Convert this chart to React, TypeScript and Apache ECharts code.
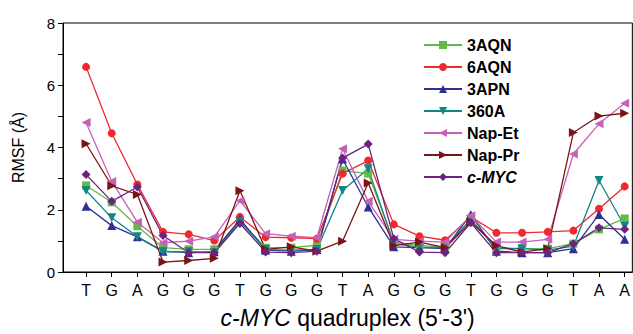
import React, { useEffect, useRef } from "react";
import * as echarts from "echarts";

const categories = ["T","G","A","G","G","G","T","G","G","G","T","A","G","G","G","T","G","G","G","T","A","A"];
const yTicks = [0, 2, 4, 6, 8];

const s3AQN = [2.78,2.24,1.47,0.78,0.73,0.73,1.65,0.78,0.78,0.86,3.26,3.16,0.96,0.85,0.81,1.69,0.78,0.75,0.75,0.91,1.37,1.72];
const s6AQN = [6.59,4.46,2.81,1.29,1.21,1.01,1.77,1.12,1.10,1.07,3.16,3.58,1.53,1.15,1.02,1.77,1.26,1.26,1.29,1.33,2.03,2.75];
const s3APN = [2.11,1.49,1.13,0.67,0.62,0.65,1.70,0.70,0.67,0.72,3.63,2.09,0.81,0.78,0.75,1.85,0.67,0.62,0.62,0.75,1.85,1.05];
const s360A = [2.62,1.74,1.13,0.65,0.65,0.62,1.62,0.72,0.70,0.72,2.62,3.32,0.91,0.80,0.78,1.69,0.75,0.75,0.70,0.83,2.94,1.47];
const sNapEt = [4.80,2.91,1.60,0.94,0.99,1.13,2.29,1.23,1.15,1.10,3.96,2.27,1.05,0.99,0.96,1.81,0.96,0.96,1.05,3.79,4.76,5.42];
const sNapPr = [4.12,2.77,2.49,0.32,0.37,0.44,2.61,0.73,0.81,0.67,0.99,2.86,0.85,0.96,0.78,1.60,0.85,0.64,0.75,4.48,5.01,5.10];
const sCMYC = [3.13,2.27,2.73,1.17,0.62,0.62,1.56,0.64,0.62,0.67,3.66,4.11,1.07,0.64,0.62,1.58,0.62,0.62,0.62,0.91,1.42,1.37];

const seriesDefs = [
  { name: "3AQN", data: s3AQN, color: "#62BB46", symbol: "rect", rotate: 0 },
  { name: "6AQN", data: s6AQN, color: "#EE2A2F", symbol: "circle", rotate: 0 },
  { name: "3APN", data: s3APN, color: "#2E3192", symbol: "triangle", rotate: 0 },
  { name: "360A", data: s360A, color: "#128585", symbol: "triangle", rotate: 180 },
  { name: "Nap-Et", data: sNapEt, color: "#C660B8", symbol: "triangle", rotate: 90 },
  { name: "Nap-Pr", data: sNapPr, color: "#7B1416", symbol: "triangle", rotate: -90 },
  { name: "c-MYC", data: sCMYC, color: "#6A2382", symbol: "diamond", rotate: 0 },
];

const FONT = "'Liberation Sans', Arial, sans-serif";

export default function App() {
  const ref = useRef<HTMLDivElement>(null);
  useEffect(() => {
    if (!ref.current) return;
    const chart = echarts.init(ref.current, null, { renderer: "svg" });
    const idx = categories.map((_, i) => i);
    chart.setOption({
      animation: false,
      backgroundColor: "#fff",
      textStyle: { fontFamily: FONT },
      grid: {
        left: 63, top: 23, right: -1, bottom: 61,
        show: true, borderColor: "#000", borderWidth: 1,
        backgroundColor: "transparent",
      },
      legend: {
        orient: "vertical",
        left: 418,
        top: 32,
        itemWidth: 38,
        itemHeight: 10,
        itemGap: 6,
        data: seriesDefs.map((s) => s.name),
        formatter: (name: string) => (name === "c-MYC" ? "{i|c-MYC}" : name),
        textStyle: {
          fontFamily: FONT, fontSize: 16, fontWeight: "bold", color: "#000", lineHeight: 16,
          rich: { i: { fontFamily: FONT, fontSize: 16, fontWeight: "bold", fontStyle: "italic", color: "#000" } },
        },
      },
      xAxis: {
        type: "value",
        min: -0.9,
        max: 21.3,
        name: "{i|c-MYC} quadruplex (5'-3')",
        nameLocation: "middle",
        nameGap: 34,
        nameTextStyle: {
          fontFamily: FONT, fontSize: 23, color: "#000",
          rich: { i: { fontFamily: FONT, fontSize: 23, fontStyle: "italic", color: "#000" } },
        },
        axisLine: { onZero: false, lineStyle: { color: "#000", width: 1 } },
        axisTick: { show: true, length: 5, lineStyle: { color: "#000" }, customValues: idx },
        axisLabel: {
          customValues: idx,
          formatter: (v: number) => categories[Math.round(v)] ?? "",
          fontFamily: FONT, fontSize: 16, color: "#000", margin: 10,
        },
        splitLine: { show: false },
      },
      yAxis: {
        type: "value",
        min: 0,
        max: 8,
        interval: 1,
        name: "RMSF (Å)",
        nameLocation: "middle",
        nameGap: 37,
        nameTextStyle: { fontFamily: FONT, fontSize: 16, color: "#000" },
        axisLine: { show: true, onZero: false, lineStyle: { color: "#000", width: 1 } },
        axisTick: { show: true, length: 5, lineStyle: { color: "#000" } },
        axisLabel: {
          formatter: (v: number) => (yTicks.includes(v) ? String(v) : ""),
          fontFamily: FONT, fontSize: 15, color: "#000", margin: 8,
        },
        splitLine: { show: false },
      },
      series: seriesDefs.map((s) => ({
        name: s.name,
        type: "line",
        data: s.data.map((v, i) => [i, v]),
        symbol: s.symbol,
        symbolSize: s.symbol === "circle" ? 8 : s.symbol === "rect" ? 8 : 9,
        symbolRotate: s.rotate,
        showSymbol: true,
        lineStyle: { color: s.color, width: 1.3 },
        itemStyle: { color: s.color },
        emphasis: { disabled: true },
      })),
    });
    return () => chart.dispose();
  }, []);
  return <div ref={ref} style={{ width: 633, height: 334, position: "absolute", left: 0, top: 0 }} />;
}
